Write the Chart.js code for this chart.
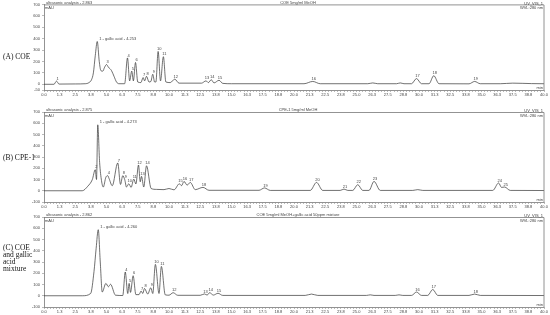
<!DOCTYPE html>
<html lang="en">
<head>
<meta charset="UTF-8">
<title>Chromatograms</title>
<script src="https://cdn.jsdelivr.net/npm/chart.js"></script>
<style>
    body { margin: 0; background: #fff; width: 550px; height: 315px; position: relative; overflow: hidden; }
    .panel { position: absolute; left: 0; }
    .side { position: absolute; left: 3px; font-family: "Liberation Serif", serif; font-size: 7.5px; line-height: 7px; color: #111; opacity: 0.99; will-change: transform; }
</style>
</head>
<body>
<div class="side" style="top:53px">(A) COE</div>
<div class="side" style="top:154px">(B) CPE-1</div>
<div class="side" style="top:244px">(C) COE<br>and gallic<br>acid<br>mixture</div>

<div class="panel" style="top:0px"><canvas id="chartA" width="550" height="100"></canvas></div>
<div class="panel" style="top:102px"><canvas id="chartB" width="550" height="110"></canvas></div>
<div class="panel" style="top:207px"><canvas id="chartC" width="550" height="108"></canvas></div>

<script>
// retention time (min) and signal (mAU)
const timesA  = [0, 0.8, 1.0, 1.2, 2.5, 3.3, 3.6, 3.8, 3.95, 4.1, 4.26, 4.42, 4.55, 4.7, 4.85, 5.0, 5.15, 5.4, 5.6, 5.8, 6.0, 6.45, 6.68, 6.85, 7.02, 7.15, 7.32, 7.5, 7.75, 7.93, 8.05, 8.2, 8.4, 8.55, 8.7, 8.85, 8.95, 9.13, 9.32, 9.55, 9.75, 10.1, 10.46, 10.8, 12.6, 12.96, 13.15, 13.38, 13.6, 14.0, 14.3, 15, 20.8, 21.5, 22.1, 25.9, 26.3, 26.7, 28.2, 28.5, 28.8, 29.4, 29.8, 30.2, 30.8, 31.18, 31.6, 34.0, 34.45, 34.9, 36.5, 37.5, 39, 40];
const signalA = [0, 0, 28, 2, 3, 5, 15, 40, 100, 250, 375, 200, 120, 115, 150, 173, 150, 120, 70, 20, 5, 5, 231, 30, 116, 30, 191, 20, 15, 59, 30, 70, 20, 25, 88, 20, 20, 288, 30, 242, 20, 15, 45, 10, 10, 30, 15, 40, 12, 35, 8, 5, 5, 25, 5, 5, 12, 5, 5, 12, 5, 5, 50, 5, 5, 75, 5, 4, 25, 5, 5, 10, 6, 5];

const timesB  = [0, 3.06, 3.5, 3.86, 4.1, 4.2, 4.3, 4.45, 4.6, 4.74, 4.95, 5.1, 5.2, 5.46, 5.9, 6.12, 6.3, 6.46, 6.6, 6.78, 6.97, 7.18, 7.35, 7.56, 7.7, 7.8, 7.98, 8.2, 8.57, 9.0, 9.6, 10.0, 10.4, 10.83, 11.0, 11.2, 11.45, 11.7, 12.1, 12.72, 13.2, 17.2, 17.64, 18.1, 21.3, 21.8, 22.3, 23.7, 24.0, 24.3, 24.7, 25.1, 25.5, 26.0, 26.4, 26.9, 29.5, 29.9, 30.3, 35.9, 36.37, 36.6, 36.85, 37.3, 40];
const signalB = [0, 0, 40, 98, 187, 100, 586, 250, 90, 33, 120, 134, 110, 45, 247, 56, 134, 98, 33, 62, 30, 104, 60, 229, 80, 128, 33, 222, 20, 12, 10, 20, 8, 62, 45, 83, 50, 74, 10, 30, 4, 4, 25, 3, 3, 74, 3, 3, 15, 3, 3, 54, 3, 3, 83, 3, 3, 10, 3, 3, 69, 30, 33, 3, 2];

const timesC  = [0, 3.06, 3.73, 4.0, 4.17, 4.34, 4.5, 4.66, 4.95, 5.15, 5.32, 5.72, 6.3, 6.5, 6.7, 6.81, 6.92, 7.13, 7.35, 7.6, 7.77, 7.9, 8.04, 8.3, 8.54, 8.7, 8.91, 9.2, 9.39, 9.7, 10.0, 10.33, 10.7, 12.5, 12.83, 13.05, 13.25, 13.55, 13.92, 14.3, 20.9, 21.4, 21.9, 25.8, 26.1, 26.4, 28.1, 28.4, 28.7, 29.4, 29.8, 30.2, 30.7, 31.1, 31.5, 34.0, 34.45, 34.9, 40];
const signalC = [0, 0, 20, 216, 420, 587, 300, 33, 110, 80, 102, 5, 2, 211, 20, 110, 30, 178, 10, 10, 42, 20, 65, 15, 71, 20, 279, 20, 261, 8, 5, 27, 4, 4, 16, 6, 27, 6, 22, 3, 3, 15, 3, 3, 8, 3, 3, 8, 3, 3, 33, 3, 3, 56, 3, 3, 15, 3, 2];

// peak annotations: retention time and label
const peakTimesA = [1.0, 4.26, 5.0, 6.68, 7.02, 7.32, 7.93, 8.2, 8.7, 9.13, 9.55, 10.46, 12.96, 13.38, 14.0, 21.5, 29.8, 31.18, 34.45];
const peakNamesA = ['1', '1 - gallic acid - 4.253', '3', '4', '5', '6', '7', '8', '9', '10', '11', '12', '13', '14', '15', '16', '17', '18', '19'];
const peakTimesB = [4.1, 4.3, 5.1, 5.9, 6.3, 6.46, 6.78, 7.18, 7.56, 7.8, 8.2, 10.83, 11.2, 11.7, 12.72, 17.64, 21.8, 24.0, 25.1, 26.4, 36.37, 36.85];
const peakNamesB = ['2', '1 - gallic acid - 4.273', '4', '7', '8', '9', '10', '11', '12', '13', '14', '15', '16', '17', '18', '19', '20', '21', '22', '23', '24', '25'];
const peakTimesC = [4.34, 6.5, 6.81, 7.13, 7.77, 8.04, 8.54, 8.91, 9.39, 10.33, 12.83, 13.25, 13.92, 29.8, 31.1, 34.45];
const peakNamesC = ['1 - gallic acid - 4.260', '4', '5', '6', '7', '8', '9', '10', '11', '12', '13', '14', '15', '16', '17', '18'];

const headerLeft = ['ultrasonic analysis - 2.863', 'ultrasonic analysis - 2.875', 'ultrasonic analysis - 2.862'];
const headerMid  = ['COE 5mg/ml MeOH', 'CPE-1 5mg/ml MeOH', 'COE 5mg/ml MeOH+gallic acid 50ppm mixture'];

// texts and frame drawn on top of each chart
const decoPlugin = {
    id: 'deco',
    afterDraw(chart) {
        const o = chart.options.plugins.deco;
        const ctx = chart.ctx;
        const a = chart.chartArea;
        const xs = chart.scales.x, ys = chart.scales.y;
        ctx.save();
        ctx.strokeStyle = '#777';
        ctx.lineWidth = 0.8;
        ctx.beginPath();
        ctx.moveTo(a.left, a.top + 0.5);
        ctx.lineTo(a.right, a.top + 0.5);
        ctx.lineTo(a.right, a.bottom);
        ctx.stroke();

        ctx.fillStyle = '#444';
        ctx.font = '4px "Liberation Sans", Arial, sans-serif';
        ctx.textBaseline = 'bottom';
        ctx.textAlign = 'left';
        ctx.fillText(o.left, a.left + 2, a.top);
        ctx.textBaseline = 'top';
        ctx.fillText('mAU', a.left + 1, a.top + 1.5);
        ctx.textBaseline = 'bottom';
        ctx.textAlign = 'center';
        ctx.fillText(o.mid, (a.left + a.right) / 2 + 4, a.top);
        ctx.textAlign = 'right';
        ctx.fillText('UV_VIS_1', a.right - 1, a.top + 1);
        ctx.textBaseline = 'top';
        ctx.fillText('WVL:280 nm', a.right - 1, a.top + 1.5);
        ctx.textBaseline = 'bottom';
        ctx.fillText('min', a.right - 1, a.bottom - 0.5);

        // peak labels
        const t = o.times, s = o.signal;
        o.peakTimes.forEach((pt, i) => {
            const k = t.indexOf(pt);
            if (k < 0) return;
            const px = xs.getPixelForValue(pt);
            const py = ys.getPixelForValue(s[k]);
            const name = o.peakNames[i];
            ctx.textAlign = name.length > 3 ? 'left' : 'center';
            ctx.fillText(name, name.length > 3 ? px + 2 : px + 1, py - 0.5);
        });
        ctx.restore();
    }
};

function makeChart(id, times, signal, yMin, padTop, xHeight, peakTimes, peakNames, idx) {
    const data = times.map((t, i) => ({ x: t, y: signal[i] }));
    return new Chart(document.getElementById(id).getContext('2d'), {
        type: 'line',
        data: {
            datasets: [{
                data: data,
                borderColor: '#333',
                borderWidth: 0.7,
                pointRadius: 0,
                cubicInterpolationMode: 'monotone',
                fill: false
            }]
        },
        options: {
            responsive: false,
            animation: false,
            layout: { padding: { top: padTop, right: 6, left: 0, bottom: 0 } },
            plugins: {
                legend: { display: false },
                tooltip: { enabled: false },
                deco: {
                    left: headerLeft[idx], mid: headerMid[idx],
                    times: times, signal: signal,
                    peakTimes: peakTimes, peakNames: peakNames
                }
            },
            scales: {
                x: {
                    type: 'linear',
                    min: 0, max: 40,
                    afterFit(axis) { axis.height = xHeight; },
                    border: { color: '#777', width: 0.8 },
                    grid: { drawOnChartArea: false, tickLength: 2, color: '#777', lineWidth: 0.5 },
                    ticks: {
                        stepSize: 0.25,
                        autoSkip: false,
                        maxTicksLimit: 200,
                        maxRotation: 0,
                        padding: 0,
                        color: '#444',
                        font: { size: 4, family: '"Liberation Sans", Arial, sans-serif' },
                        callback: function (v) {
                            const q = v / 1.25;
                            return Math.abs(q - Math.round(q)) < 1e-6 ? v.toFixed(1) : '';
                        }
                    }
                },
                y: {
                    min: yMin, max: 700,
                    afterFit(axis) { axis.width = 44; },
                    border: { color: '#777', width: 0.8 },
                    grid: { drawOnChartArea: false, tickLength: 2, color: '#777', lineWidth: 0.5 },
                    ticks: {
                        stepSize: 100,
                        padding: 2,
                        color: '#444',
                        font: { size: 4, family: '"Liberation Sans", Arial, sans-serif' }
                    }
                }
            }
        },
        plugins: [decoPlugin]
    });
}

makeChart('chartA', timesA, signalA, -50, 3, 10, peakTimesA, peakNamesA, 0);
makeChart('chartB', timesB, signalB, -100, 10, 10, peakTimesB, peakNamesB, 1);
makeChart('chartC', timesC, signalC, -100, 10, 8, peakTimesC, peakNamesC, 2);
</script>
</body>
</html>
